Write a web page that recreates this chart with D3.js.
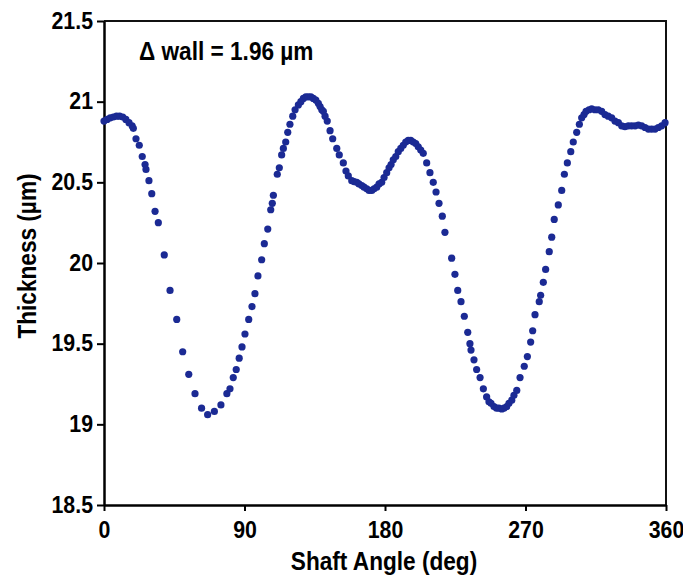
<!DOCTYPE html>
<html>
<head>
<meta charset="utf-8">
<script src="https://cdn.jsdelivr.net/npm/d3@7"></script>
<style>
  body { margin: 0; background: #fff; }
  svg { display: block; }
</style>
</head>
<body>
<div id="chart"></div>
<script>
const width = 683;
const height = 582;
const margin = ({ top: 21, right: 17, bottom: 77, left: 104 });

// shaft angle (deg) of each measured point
const angles = [
  0, 2, 4, 6, 8, 10, 12, 14, 16, 18,
  18.8, 20.5, 22.6, 24.5, 26.3, 26.9, 28.8, 30.6, 32.7, 34.8,
  38.6, 42.3, 46.6, 50.4, 54.3, 58.3, 62.5, 66.4, 70.7, 74.9,
  78.7, 80.7, 82.8, 84.7, 86.6, 88.4, 90.3, 92.7, 94.8, 96.7,
  98.6, 101.0, 102.7, 104.9, 106.8, 107.8, 108.5, 111.0, 112.3, 113.8,
  114.9, 116.4, 117.7, 119.1, 120.9, 122.4, 124.5, 126.1, 127.7, 129.3,
  130.9, 132.5, 134.1, 135.7, 137.3, 138.4, 139.5, 140.5, 141.6, 143.0,
  144.8, 146.5, 149.1, 150.7, 153.3, 155.0, 156.5, 158.7, 160.2, 161.9,
  163.3, 165.1, 166.6, 168.3, 169.8, 171.5, 173.0, 174.7, 176.2, 177.9,
  179.4, 181.1, 182.6, 183.9, 185.3, 186.9, 188.5, 190.1, 191.7, 193.3,
  194.9, 196.5, 198.1, 199.7, 201.3, 202.9, 204.5, 206.7, 208.8, 210.9,
  212.7, 214.6, 216.7, 218.4, 222.7, 224.8, 226.6, 228.7, 230.8, 233.0,
  234.4, 235.1, 237.0, 238.7, 240.9, 243.0, 245.1, 246.6, 247.9, 249.8,
  251.5, 253.0, 254.8, 256.2, 258.0, 259.4, 261.2, 262.6, 264.4, 266.5,
  269.2, 271.2, 273.3, 274.6, 276.1, 278.8, 279.7, 281.4, 282.9, 285.2,
  286.8, 288.4, 291.0, 293.2, 294.9, 296.8, 299.0, 300.6, 302.8, 304.5,
  306.0, 307.5, 308.8, 310.7, 312.4, 314.5, 316.6, 318.8, 320.9, 323.0,
  325.2, 327.3, 329.5, 331.6, 333.7, 335.9, 338.0, 340.2, 342.3, 344.4,
  346.6, 348.7, 350.8, 353.0, 355.1, 357.2, 359.4
];

// wall thickness (µm) at those angles
const thickness = [
  20.88, 20.89, 20.90, 20.905, 20.91, 20.91, 20.905, 20.89, 20.87, 20.85,
  20.835, 20.77, 20.73, 20.66, 20.61, 20.58, 20.51, 20.43, 20.32, 20.25,
  20.05, 19.83, 19.65, 19.45, 19.31, 19.19, 19.10, 19.06, 19.08, 19.12,
  19.19, 19.22, 19.29, 19.34, 19.41, 19.48, 19.56, 19.65, 19.73, 19.81,
  19.92, 20.02, 20.12, 20.21, 20.33, 20.37, 20.42, 20.55, 20.59, 20.67,
  20.71, 20.75, 20.81, 20.86, 20.91, 20.95, 20.98, 21.00, 21.02, 21.03,
  21.03, 21.03, 21.02, 21.01, 20.99, 20.97, 20.95, 20.94, 20.91, 20.88,
  20.82, 20.77, 20.71, 20.67, 20.62, 20.57, 20.54, 20.51, 20.505, 20.50,
  20.49, 20.48, 20.47, 20.46, 20.45, 20.45, 20.46, 20.47, 20.49, 20.50,
  20.53, 20.56, 20.59, 20.61, 20.64, 20.66, 20.69, 20.71, 20.73, 20.75,
  20.76, 20.76, 20.75, 20.74, 20.72, 20.70, 20.68, 20.62, 20.56, 20.50,
  20.44, 20.37, 20.29, 20.19, 20.03, 19.93, 19.83, 19.76, 19.67, 19.57,
  19.50, 19.46, 19.40, 19.34, 19.29, 19.22, 19.17, 19.14, 19.13, 19.11,
  19.10, 19.10, 19.095, 19.10, 19.11, 19.13, 19.15, 19.18, 19.21, 19.29,
  19.36, 19.42, 19.51, 19.58, 19.68, 19.76, 19.80, 19.88, 19.96, 20.07,
  20.16, 20.27, 20.36, 20.45, 20.55, 20.62, 20.69, 20.75, 20.81, 20.86,
  20.90, 20.92, 20.94, 20.95, 20.955, 20.95, 20.95, 20.94, 20.92, 20.91,
  20.90, 20.88, 20.87, 20.85, 20.845, 20.85, 20.85, 20.85, 20.855, 20.85,
  20.84, 20.83, 20.83, 20.83, 20.84, 20.85, 20.87
];

const xTicks = [0, 90, 180, 270, 360];
const yTicks = [18.5, 19, 19.5, 20, 20.5, 21, 21.5];

const annotation = "\u0394 wall = 1.96 \u00b5m";
const xTitle = "Shaft Angle (deg)";
const yTitle = "Thickness (\u00b5m)";

const font = "'Liberation Sans', Arial, Helvetica, sans-serif";
const squeeze = 0.87; // the original lettering is a bit condensed

let points = angles.map((a, i) => ({ angle: a, t: thickness[i] }));

let x = d3.scaleLinear()
  .domain([0, 360])
  .range([margin.left, width - margin.right]);

let y = d3.scaleLinear()
  .domain([18.5, 21.5])
  .range([height - margin.bottom, margin.top]);

const svg = d3.select('#chart')
  .append('svg')
  .attr('width', width)
  .attr('height', height);

// frame: top and right sides
svg.append('path')
  .attr('d', `M${x(0)},${y(21.5)}H${x(360)}V${y(18.5)}`)
  .attr('fill', 'none')
  .attr('stroke', '#111')
  .attr('stroke-width', 2);

let xAxis = g => g
  .attr('transform', `translate(0,${y(18.5)})`)
  .call(d3.axisBottom(x).tickValues(xTicks).tickFormat(d3.format('~g')).tickSize(6).tickSizeOuter(0))
  .call(g => g.select('.domain').attr('stroke', '#000').attr('stroke-width', 2.5))
  .call(g => g.selectAll('.tick line').attr('stroke', '#000').attr('stroke-width', 2))
  .call(g => g.selectAll('.tick text')
    .attr('y', null).attr('dy', null)
    .attr('transform', `translate(0,33) scale(${squeeze},1)`)
    .attr('fill', '#000')
    .style('font-family', font)
    .style('font-size', '24.5px')
    .style('font-weight', 'bold'));

let yAxis = g => g
  .attr('transform', `translate(${x(0)},0)`)
  .call(d3.axisLeft(y).tickValues(yTicks).tickFormat(d3.format('~g')).tickSize(7).tickSizeOuter(0))
  .call(g => g.select('.domain').attr('stroke', '#000').attr('stroke-width', 2.5))
  .call(g => g.selectAll('.tick line').attr('stroke', '#000').attr('stroke-width', 2))
  .call(g => g.selectAll('.tick text')
    .attr('x', null).attr('dy', null)
    .attr('transform', `translate(-11,7) scale(${squeeze},1)`)
    .attr('fill', '#000')
    .style('font-family', font)
    .style('font-size', '24.5px')
    .style('font-weight', 'bold'));

svg.append('g').call(xAxis);
svg.append('g').call(yAxis);

// measured points
svg.append('g')
  .attr('fill', '#1b2a94')
  .selectAll('circle')
  .data(points)
  .enter()
  .append('circle')
  .attr('cx', d => x(d.angle))
  .attr('cy', d => y(d.t))
  .attr('r', 3.6);

// labels
function label(tx, ty, text, anchor, rotate) {
  svg.append('text')
    .attr('transform', `translate(${tx},${ty})` + (rotate ? ` rotate(${rotate})` : '') + ` scale(${squeeze},1)`)
    .attr('text-anchor', anchor)
    .style('font-family', font)
    .style('font-size', '26px')
    .style('font-weight', 'bold')
    .attr('fill', '#000')
    .text(text);
}

label(139, 60, annotation, 'start');
label(384, 570, xTitle, 'middle');
label(35.5, 256, yTitle, 'middle', -90);
</script>
</body>
</html>
